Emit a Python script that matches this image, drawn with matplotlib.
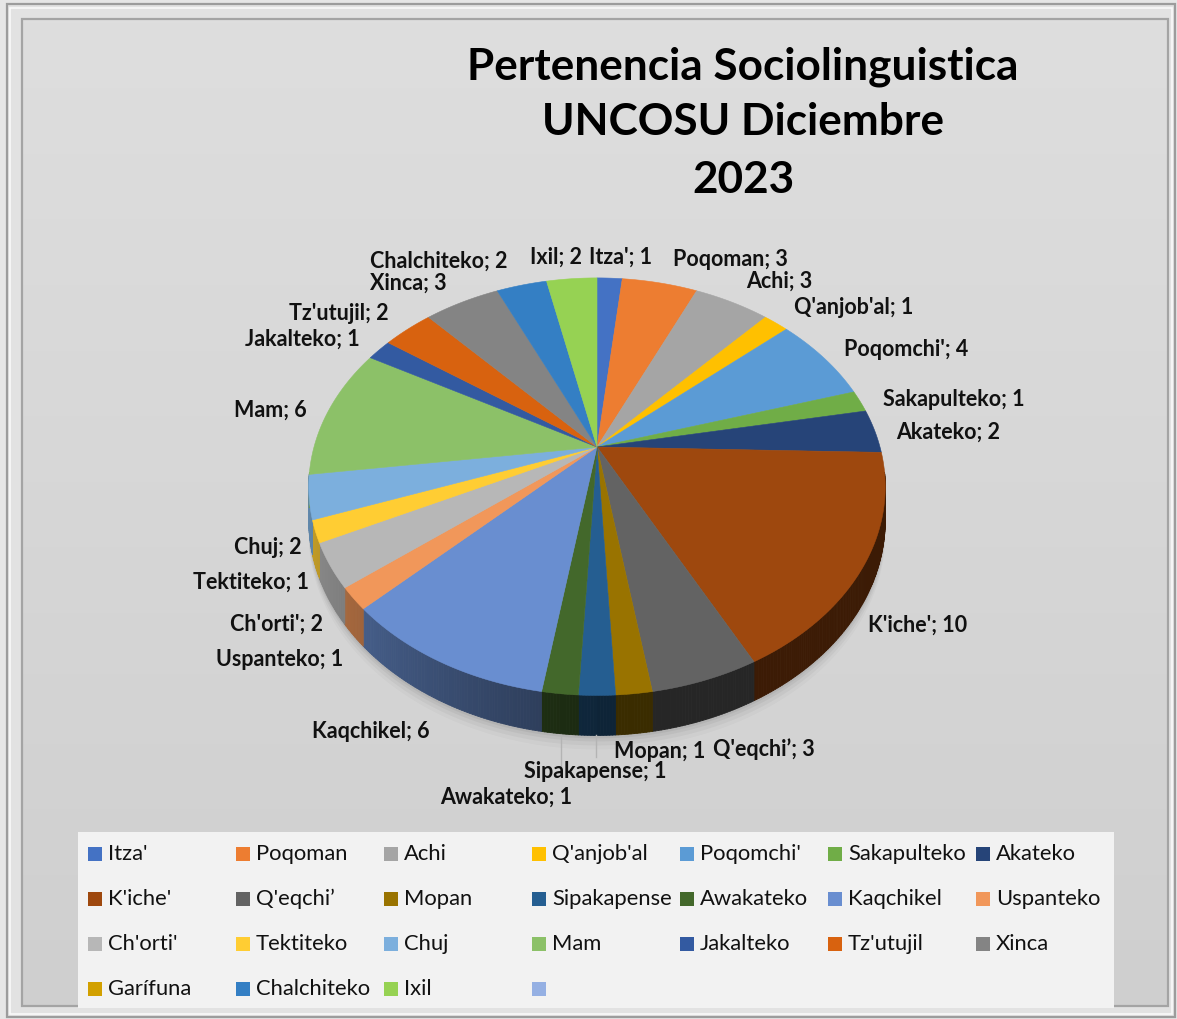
import numpy as np
import matplotlib
matplotlib.use("Agg")
import matplotlib.pyplot as plt
from matplotlib.patches import Rectangle, Polygon
from matplotlib.collections import PolyCollection
from matplotlib.colors import to_rgb

# ---------------- data ----------------
categories = ["Itza'", "Poqoman", "Achi", "Q'anjob'al", "Poqomchi'", "Sakapulteko",
              "Akateko", "K'iche'", "Q'eqchi’", "Mopan", "Sipakapense", "Awakateko",
              "Kaqchikel", "Uspanteko", "Ch'orti'", "Tektiteko", "Chuj", "Mam",
              "Jakalteko", "Tz'utujil", "Xinca", "Garífuna", "Chalchiteko", "Ixil"]
values = [1, 3, 3, 1, 4, 1, 2, 10, 3, 1, 1, 1, 6, 1, 2, 1, 2, 6, 1, 2, 3, 0, 2, 2]
colors = ["#4472C4", "#ED7D31", "#A5A5A5", "#FFC000", "#5B9BD5", "#70AD47",
          "#264478", "#9E480E", "#636363", "#997300", "#255E91", "#43682B",
          "#698ED0", "#F1975A", "#B7B7B7", "#FFCD33", "#7CAFDD", "#8CC168",
          "#335AA1", "#D8620F", "#848484", "#D2A000", "#347FC4", "#96D253"]
extra_legend_color = "#95B0E3"
title_lines = ["Pertenencia Sociolinguistica", "UNCOSU Diciembre", "2023"]

# label anchor positions (pixels, text centre) -- layout only
label_pos = {
    "Itza'": (621, 257), "Poqoman": (730, 259), "Achi": (779, 281),
    "Q'anjob'al": (854, 307), "Poqomchi'": (906, 349), "Sakapulteko": (954, 400),
    "Akateko": (948, 432), "K'iche'": (918, 625), "Q'eqchi’": (764, 749),
    "Mopan": (660, 751), "Sipakapense": (595, 772), "Awakateko": (506, 797),
    "Kaqchikel": (371, 732), "Uspanteko": (280, 659), "Ch'orti'": (277, 624),
    "Tektiteko": (251, 582), "Chuj": (268, 548), "Mam": (270, 410),
    "Jakalteko": (302, 339), "Tz'utujil": (339, 313), "Xinca": (408, 283),
    "Chalchiteko": (439, 261), "Ixil": (556, 257),
}

W, H = 1177, 1019
fig = plt.figure(figsize=(W / 100, H / 100), dpi=100, facecolor="#E6E6E6")
ax = fig.add_axes([0, 0, 1, 1])
ax.set_xlim(0, W)
ax.set_ylim(H, 0)
ax.axis("off")

# ---------------- background frames ----------------
ax.add_patch(Rectangle((7, 4), 1168, 1013, facecolor="#E2E2E2", edgecolor="#9C9C9C", lw=1.6, zorder=0))
ax.add_patch(Rectangle((10, 8), 1162, 1006, facecolor="none", edgecolor="#FAFAFA", lw=1.2, zorder=0.1))
grad = np.linspace(0, 1, 256)[:, None]
top_c = np.array(to_rgb("#DEDEDE"))
bot_c = np.array(to_rgb("#CFCFCF"))
img = top_c[None, None, :] * (1 - grad[:, :, None]) + bot_c[None, None, :] * grad[:, :, None]
ax.imshow(img, extent=(22, 1168, 1006, 19), aspect="auto", zorder=0.2)
ax.add_patch(Rectangle((22, 19), 1146, 987, facecolor="none", edgecolor="#A4A4A4", lw=1.6, zorder=0.3))

# ---------------- 3D pie geometry ----------------
cx, cy, S = 597, 447, 283
k, sin_e, hc = 0.19, 0.711, 0.1145


def proj(theta_deg, down=0.0):
    t = np.radians(theta_deg)
    u = np.sin(t)
    v = -np.cos(t)
    d = 1 - k * v
    return cx + S * u / d, cy + S * (v * sin_e + down) / d


vals = np.array(values, dtype=float)
total = vals.sum()
ends = np.cumsum(vals) / total * 360.0
starts = ends - vals / total * 360.0

# soft shadow below the front rim
th_front = np.linspace(95, 265, 200)
for off, a in [(14, 0.025), (10, 0.035), (6, 0.045), (3, 0.05)]:
    xs, ys = proj(th_front, hc)
    xs2, ys2 = proj(th_front[::-1], hc)
    pts = np.vstack([np.c_[xs, ys + off], np.c_[xs2, ys2 - 4]])
    ax.add_patch(Polygon(pts, closed=True, facecolor="black", alpha=a, lw=0, zorder=1))


def side_factor(th):
    t = th % 360
    if 180 <= t <= 300:
        return 0.40 + 0.38 * np.sin(np.radians(t - 180)) ** 1.2
    return 0.38


quads, qcols = [], []
for s0, e0, col in zip(starts, ends, colors):
    if e0 - s0 <= 0:
        continue
    n = max(2, int((e0 - s0) / 0.5) + 1)
    ths = np.linspace(s0, e0, n)
    base = np.array(to_rgb(col))
    for a, b in zip(ths[:-1], ths[1:]):
        if -np.cos(np.radians((a + b) / 2)) < 0.12:
            continue
        x1, y1 = proj(a)
        x2, y2 = proj(b)
        x3, y3 = proj(b, hc)
        x4, y4 = proj(a, hc)
        quads.append([(x1, y1), (x2, y2), (x3, y3), (x4, y4)])
        qcols.append(np.clip(base * side_factor((a + b) / 2), 0, 1))
pc = PolyCollection(quads, facecolors=qcols, edgecolors=qcols, linewidths=0.6, zorder=2)
ax.add_collection(pc)

# top faces
for s0, e0, col in zip(starts, ends, colors):
    if e0 - s0 <= 0:
        continue
    ths = np.linspace(s0, e0, max(2, int((e0 - s0) / 0.5) + 1))
    xs, ys = proj(ths)
    pts = np.vstack([[cx, cy], np.c_[xs, ys]])
    ax.add_patch(Polygon(pts, closed=True, facecolor=col, edgecolor=col, lw=0.4, zorder=3))

# ---------------- labels ----------------
FONT = "Lato"
for name, val in zip(categories, values):
    if name not in label_pos:
        continue
    x, y = label_pos[name]
    ax.text(x, y, f"{name}; {val}", ha="center", va="center", fontsize=15.5,
            fontweight="bold", family=[FONT, "DejaVu Sans"], color="#111111", zorder=5)

# leader lines
ax.plot([561, 561], [735, 767], color="#B4B4B4", lw=1.0, zorder=4)
ax.plot([596, 596], [735, 757], color="#B4B4B4", lw=1.0, zorder=4)

# ---------------- title ----------------
for line, y in zip(title_lines, [67, 122, 180]):
    ax.text(743, y, line, ha="center", va="center", fontsize=31.8, fontweight="bold",
            family=[FONT, "DejaVu Sans"], color="black", zorder=5)

# ---------------- legend ----------------
ax.add_patch(Rectangle((78, 832), 1036, 176, facecolor="#F2F2F2", edgecolor="none", zorder=4))
leg_names = categories + [""]
leg_cols = colors + [extra_legend_color]
for i, (nm, col) in enumerate(zip(leg_names, leg_cols)):
    r, c = divmod(i, 7)
    x0 = 88 + 148 * c
    y0 = 854 + 45 * r
    ax.add_patch(Rectangle((x0, y0 - 7), 14, 14, facecolor=col, edgecolor="none", zorder=5))
    if nm:
        ax.text(x0 + 20, y0, nm, ha="left", va="center", fontsize=15.8,
                family=[FONT, "DejaVu Sans"], color="#111111", zorder=5)

fig.savefig("out.png", dpi=100, facecolor=fig.get_facecolor())
